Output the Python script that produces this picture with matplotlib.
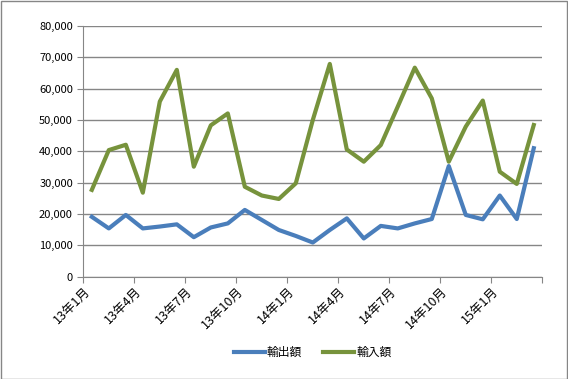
import matplotlib
matplotlib.use("Agg")
import matplotlib.pyplot as plt
from matplotlib.patches import Rectangle
from matplotlib.transforms import ScaledTranslation
import numpy as np

plt.rcParams['font.family'] = ['Noto Sans CJK JP', 'DejaVu Sans']

months = [f"{y}年{m}月" for y in (13, 14, 15) for m in range(1, 13)][:27]
exports = [19.1, 15.4, 19.7, 15.4, 16.0, 16.7, 12.6, 15.7, 17.0, 21.3, 18.1, 14.9, 13.0,
           10.9, 14.9, 18.6, 12.2, 16.2, 15.4, 17.0, 18.4, 35.3, 19.7, 18.3, 25.9, 18.4, 41.0]
imports = [27.7, 40.4, 42.1, 26.8, 55.9, 66.0, 35.1, 48.3, 52.1, 28.7, 25.9, 24.8, 29.8,
           50.0, 67.9, 40.6, 36.7, 42.0, 54.3, 66.7, 56.9, 36.7, 47.9, 56.2, 33.5, 29.6, 48.4]
exports = [v * 1000 for v in exports]
imports = [v * 1000 for v in imports]
tick_labels = months[::3]

fig = plt.figure(figsize=(5.68, 3.79), dpi=100)
fig.patches.append(Rectangle((0.001, 0.001), 0.997, 0.996, transform=fig.transFigure,
                             fill=False, edgecolor='#868686', linewidth=1.0))
ax = fig.add_axes([0.1467, 0.27, 0.808, 0.6614])

x = np.arange(len(months)) + 0.5
ax.plot(x, exports, color='#4A7EBB', lw=3, label='輸出額', solid_joinstyle='round')
ax.plot(x, imports, color='#77933C', lw=3, label='輸入額', solid_joinstyle='round')

ax.set_xlim(0, 27)
ax.set_ylim(0, 80000)
ax.set_yticks(np.arange(0, 80001, 10000))
ax.set_yticklabels([f"{v:,}" for v in range(0, 80001, 10000)], fontsize=8)
ax.set_xticks(np.arange(0, 28, 3))
ax.set_xticklabels(tick_labels + [''], rotation=45, ha='right', rotation_mode='anchor', fontsize=9)
offset = ScaledTranslation(6 / 100, -3 / 100, fig.dpi_scale_trans)
for lbl in ax.get_xticklabels():
    lbl.set_transform(lbl.get_transform() + offset)
ax.tick_params(axis='x', length=4, color='#868686', pad=2)
ax.tick_params(axis='y', length=4, color='#868686', direction='out')
ax.grid(axis='y', color='#868686', lw=1)
ax.set_axisbelow(True)
for s in ('top', 'right'):
    ax.spines[s].set_visible(False)
for s in ('left', 'bottom'):
    ax.spines[s].set_color('#868686')

ax.legend(loc='center', bbox_to_anchor=(0.5, 0.07), bbox_transform=fig.transFigure,
          ncol=2, frameon=False, fontsize=8.5,
          handlelength=2.6, columnspacing=1.8, handletextpad=0.2)
# center legend over the axes horizontally
leg = ax.get_legend()
leg.set_bbox_to_anchor((0.1467 + 0.808 / 2, 0.07), transform=fig.transFigure)

fig.savefig('out.png', dpi=100)
